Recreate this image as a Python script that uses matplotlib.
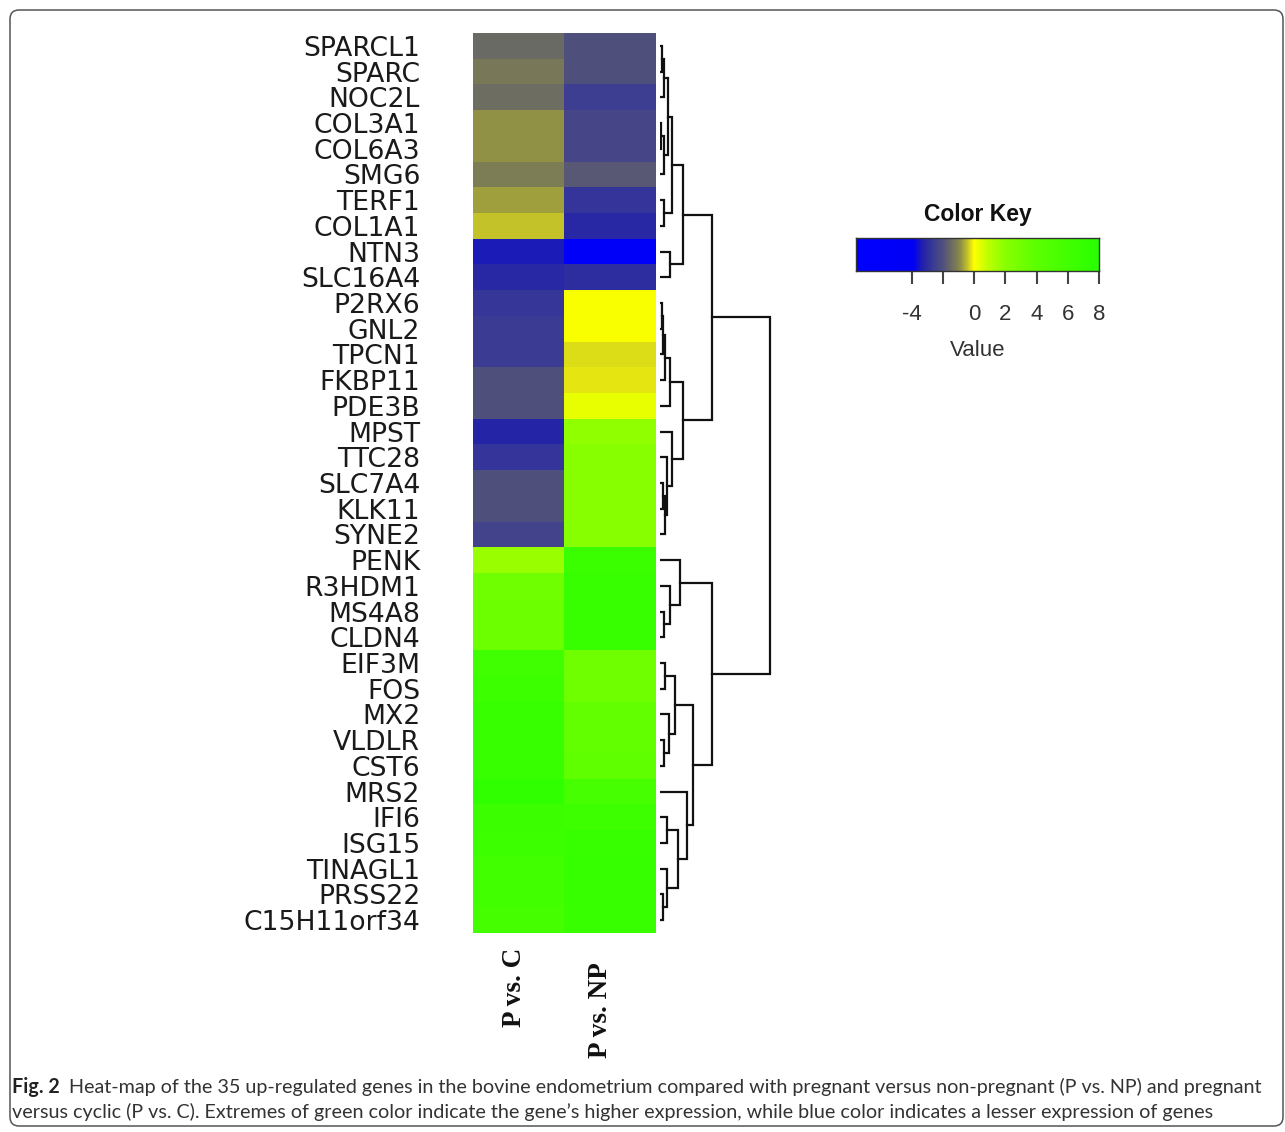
import numpy as np
import matplotlib.pyplot as plt
from matplotlib.colors import LinearSegmentedColormap, Normalize
from matplotlib.patches import FancyBboxPatch
from matplotlib.transforms import IdentityTransform

W, H = 1285, 1132

genes = ['SPARCL1', 'SPARC', 'NOC2L', 'COL3A1', 'COL6A3', 'SMG6', 'TERF1', 'COL1A1',
         'NTN3', 'SLC16A4', 'P2RX6', 'GNL2', 'TPCN1', 'FKBP11', 'PDE3B', 'MPST',
         'TTC28', 'SLC7A4', 'KLK11', 'SYNE2', 'PENK', 'R3HDM1', 'MS4A8', 'CLDN4',
         'EIF3M', 'FOS', 'MX2', 'VLDLR', 'CST6', 'MRS2', 'IFI6', 'ISG15', 'TINAGL1',
         'PRSS22', 'C15H11orf34']
columns = ['P vs. C', 'P vs. NP']

p_vs_c = [-1.45, -1.2, -1.4, -0.85, -0.85, -1.15, -0.75, -0.4, -3.4, -3.1,
          -2.75, -2.6, -2.6, -2.0, -2.0, -3.25, -2.8, -2.0, -2.0, -2.4,
          1.66, 3.1, 3.2, 3.2, 6.2, 6.4, 6.8, 6.8, 6.8, 7.3, 6.5, 6.4, 5.9, 5.9, 5.7]
p_vs_np = [-2.0, -2.0, -2.55, -2.3, -2.3, -1.85, -2.8, -3.1, -5.5, -3.0,
           0.05, 0.05, -0.25, -0.15, 0.3, 1.8, 2.0, 2.0, 2.0, 2.0,
           6.6, 6.7, 6.8, 6.8, 3.1, 3.1, 3.7, 3.7, 3.8, 5.6, 6.3, 6.8, 6.9, 6.8, 6.8]

# row dendrogram: (left node, right node, height); leaves are 0..34, merge k is node 35+k
merges = [(0, 1, 2), (35, 2, 4), (3, 4, 1.5), (37, 5, 4), (36, 38, 8), (6, 7, 4),
          (39, 40, 12), (8, 9, 10), (41, 42, 23),
          (10, 11, 2), (44, 12, 3), (45, 13, 5), (46, 14, 10), (17, 18, 3), (48, 19, 5),
          (16, 49, 7), (15, 50, 12), (47, 51, 23), (43, 52, 52),
          (22, 23, 4), (21, 54, 10), (20, 55, 20), (24, 25, 5), (27, 28, 4), (26, 58, 9),
          (57, 59, 15), (30, 31, 7), (33, 34, 3), (32, 62, 7), (61, 63, 18), (29, 64, 27),
          (60, 65, 33), (56, 66, 52), (53, 67, 110)]

key_min, key_max = -7.57, 8
key_stops = [-7.57, -3.9, -3.3, -2.6, -2.0, -1.4, -0.9, -0.45, 0, 0.8, 2, 4, 8]
key_colors = ['#0000ff', '#0000f5', '#2222aa', '#3c3c94', '#50507c', '#6e6e62', '#8c8c48',
              '#c0c02c', '#ffff00', '#c4ff00', '#88ff00', '#5cff00', '#28ff00']

cmap = LinearSegmentedColormap.from_list(
    'key', [((s - key_min) / (key_max - key_min), c) for s, c in zip(key_stops, key_colors)])
norm = Normalize(key_min, key_max)

fig = plt.figure(figsize=(W / 100, H / 100), dpi=100)
fig.patch.set_facecolor('white')


def box(x0, y0, x1, y1):
    return [x0 / W, 1 - y1 / H, (x1 - x0) / W, (y1 - y0) / H]


# heatmap
ax = fig.add_axes(box(473, 33, 656, 933))
data = np.column_stack([p_vs_c, p_vs_np])
ax.imshow(data, cmap=cmap, norm=norm, aspect='auto', interpolation='nearest')
ax.set_yticks(range(len(genes)))
ax.set_yticklabels(genes, fontsize=19.2, family='DejaVu Sans', color='#1a1a1a')
ax.tick_params(axis='y', length=0, pad=38)
ax.set_xticks([])
for s in ax.spines.values():
    s.set_visible(False)

col_offsets = [(-0.05, -15 / 900), (-0.11, -29 / 900)]
for i, (lab, (dx, dy)) in enumerate(zip(columns, col_offsets)):
    ax.text(i + dx, dy, lab, transform=ax.get_xaxis_transform(), rotation=90,
            ha='center', va='top', fontsize=19.5, fontweight='bold',
            family='Liberation Serif', color='#111111')

# dendrogram
axd = fig.add_axes(box(660, 33, 775, 933))
pos = {i: float(i) for i in range(len(genes))}
hgt = {i: 0.0 for i in range(len(genes))}
for k, (a, b, h) in enumerate(merges):
    node = len(genes) + k
    axd.plot([hgt[a], h, h, hgt[b]], [pos[a], pos[a], pos[b], pos[b]],
             color='#111111', lw=1.6, solid_joinstyle='miter')
    pos[node] = (pos[a] + pos[b]) / 2
    hgt[node] = h
axd.set_xlim(0, 115)
axd.set_ylim(len(genes) - 0.5, -0.5)
axd.axis('off')

# colour key
axk = fig.add_axes(box(856, 238, 1099, 271))
grad = np.linspace(key_min, key_max, 512)[None, :]
axk.imshow(grad, cmap=cmap, norm=norm, aspect='auto', extent=[key_min, key_max, 0, 1])
axk.set_xlim(key_min, key_max)
axk.set_yticks([])
axk.set_xticks([-4, -2, 0, 2, 4, 6, 8])
axk.set_xticklabels(['-4', '', '0', '2', '4', '6', '8'], fontsize=16,
                    family='Liberation Sans', color='#333333')
axk.tick_params(axis='x', length=9.5, width=1.5, color='#444444', pad=14)
for s in axk.spines.values():
    s.set_color('#333333')
    s.set_linewidth(1.0)
axk.set_xlabel('Value', fontsize=16, family='Liberation Sans', color='#333333', labelpad=11)
axk.set_title('Color Key', fontsize=16.5, fontweight='bold', family='Liberation Sans',
              color='#111111', pad=12)

# caption
cap1 = ('Heat-map of the 35 up-regulated genes in the bovine endometrium compared with '
        'pregnant versus non-pregnant (P vs. NP) and pregnant')
cap2 = ('versus cyclic (P vs. C). Extremes of green color indicate the gene\u2019s higher '
        'expression, while blue color indicates a lesser expression of genes')
t = fig.text(12 / W, 1 - 1087 / H, 'Fig. 2', fontsize=14.2, fontweight='bold',
             family='Lato', color='#222222', va='center')
r = fig.canvas.get_renderer()
bb = t.get_window_extent(r)
fig.text((bb.x1 + 9) / W, 1 - 1087 / H, cap1, fontsize=14.2, family='Lato',
         color='#333333', va='center')
fig.text(12 / W, 1 - 1112 / H, cap2, fontsize=14.2, family='Lato',
         color='#333333', va='center')

frame = FancyBboxPatch((10, 6), 1273, 1116, boxstyle='round,pad=0,rounding_size=9',
                       transform=IdentityTransform(), fill=False, edgecolor='#555555',
                       linewidth=1.1)
fig.add_artist(frame)

fig.savefig('out.png', dpi=100, facecolor='white')
